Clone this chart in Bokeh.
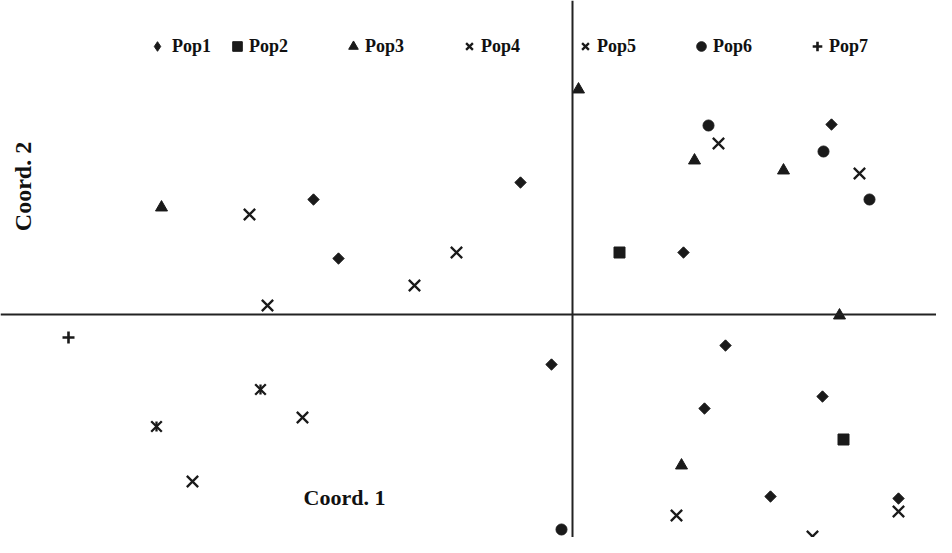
import math
from bokeh.plotting import figure
from bokeh.models import Span, Label, Legend, LegendItem, Range1d
from bokeh.embed import file_html
from bokeh.resources import INLINE

# Coordinates (Coord. 1, Coord. 2)
pop1_x = [-2.59, -2.34, -0.52, -0.21, 1.11, 2.59, 1.53, 1.32, 2.50, 1.98, 3.26]
pop1_y = [1.15, 0.56, 1.32, -0.50, 0.62, 1.90, -0.31, -0.94, -0.82, -1.82, -1.84]
pop2_x = [0.47, 2.71]
pop2_y = [0.62, -1.25]
pop3_x = [-4.11, 0.06, 1.22, 2.11, 2.67, 1.09]
pop3_y = [1.07, 2.25, 1.54, 1.44, -0.01, -1.51]
pop4_x = [-3.23, -3.05, -1.58, -1.16, 1.46, 2.87, -2.70, -3.80, 1.04, 2.40, 3.26]
pop4_y = [1.00, 0.09, 0.29, 0.62, 1.71, 1.41, -1.03, -1.67, -2.01, -2.22, -1.97]
pop5_x = [-4.16, -3.12]
pop5_y = [-1.12, -0.75]
pop6_x = [1.36, 2.51, 2.97, -0.11]
pop6_y = [1.89, 1.63, 1.15, -2.15]
pop7_x = [-5.04]
pop7_y = [-0.23]

labels = ["Pop1", "Pop2", "Pop3", "Pop4", "Pop5", "Pop6", "Pop7"]

INK = "#1a1a1a"
FONT = "Liberation Serif"

p = figure(width=936, height=537, output_backend="svg", toolbar_location=None,
           x_range=Range1d(-5.72, 3.64), y_range=Range1d(-2.23, 3.14),
           min_border=0, outline_line_color=None)
p.axis.visible = False
p.grid.visible = False
p.background_fill_color = "white"
p.border_fill_color = "white"

p.add_layout(Span(location=0, dimension="width", line_color="#222222", line_width=2))
p.add_layout(Span(location=0, dimension="height", line_color="#222222", line_width=2))

# Pop1: a narrow diamond (used by the legend) hidden under a rotated square
r1 = p.scatter(pop1_x, pop1_y, marker="diamond", size=9, color=INK)
p.scatter(pop1_x, pop1_y, marker="square", size=8, angle=math.pi / 4, color=INK)
r2 = p.scatter(pop2_x, pop2_y, marker="square", size=11, color=INK)
r3 = p.scatter(pop3_x, pop3_y, marker="triangle", size=12, color=INK)
r4 = p.scatter(pop4_x, pop4_y, marker="x", size=16, line_color=INK, line_width=2.3)
r5a = p.scatter(pop5_x, pop5_y, marker="x", size=15, line_color=INK, line_width=2.3)
p.scatter(pop5_x, pop5_y, marker="dash", size=10, angle=math.pi / 2,
          line_color=INK, line_width=2.3)
r6 = p.scatter(pop6_x, pop6_y, marker="circle", size=11, color=INK)
r7 = p.scatter(pop7_x, pop7_y, marker="cross", size=12, line_color=INK, line_width=2.6)

def make_legend(items, x, y, standoff, spacing):
    return Legend(items=items, orientation="horizontal", location=(x, y),
                  border_line_color=None, background_fill_alpha=0,
                  padding=0, margin=0, spacing=spacing,
                  glyph_width=24, glyph_height=24, label_standoff=standoff,
                  label_text_font=FONT, label_text_font_style="bold",
                  label_text_font_size="18px", label_text_color="#111111")

leg1 = make_legend([LegendItem(label=labels[0], renderers=[r1])], 145, 479, 3, 0)
leg2 = make_legend([
    LegendItem(label=labels[1], renderers=[r2]),
    LegendItem(label=labels[2], renderers=[r3]),
    LegendItem(label=labels[3], renderers=[r4]),
    LegendItem(label=labels[4], renderers=[r5a]),
    LegendItem(label=labels[5], renderers=[r6]),
    LegendItem(label=labels[6], renderers=[r7]),
], 225, 479, 0, 53)
p.add_layout(leg1, "center")
p.add_layout(leg2, "center")

p.add_layout(Label(x=-2.69, y=-1.83, text="Coord. 1", text_font=FONT,
                   text_font_style="bold", text_font_size="22px",
                   text_align="left", text_baseline="middle", text_color="#111111"))
p.add_layout(Label(x=-5.50, y=1.28, text="Coord. 2", text_font=FONT,
                   text_font_style="bold", text_font_size="24px", angle=math.pi / 2,
                   text_align="center", text_baseline="middle", text_color="#111111"))

open("out.html", "w").write(file_html(p, INLINE))
